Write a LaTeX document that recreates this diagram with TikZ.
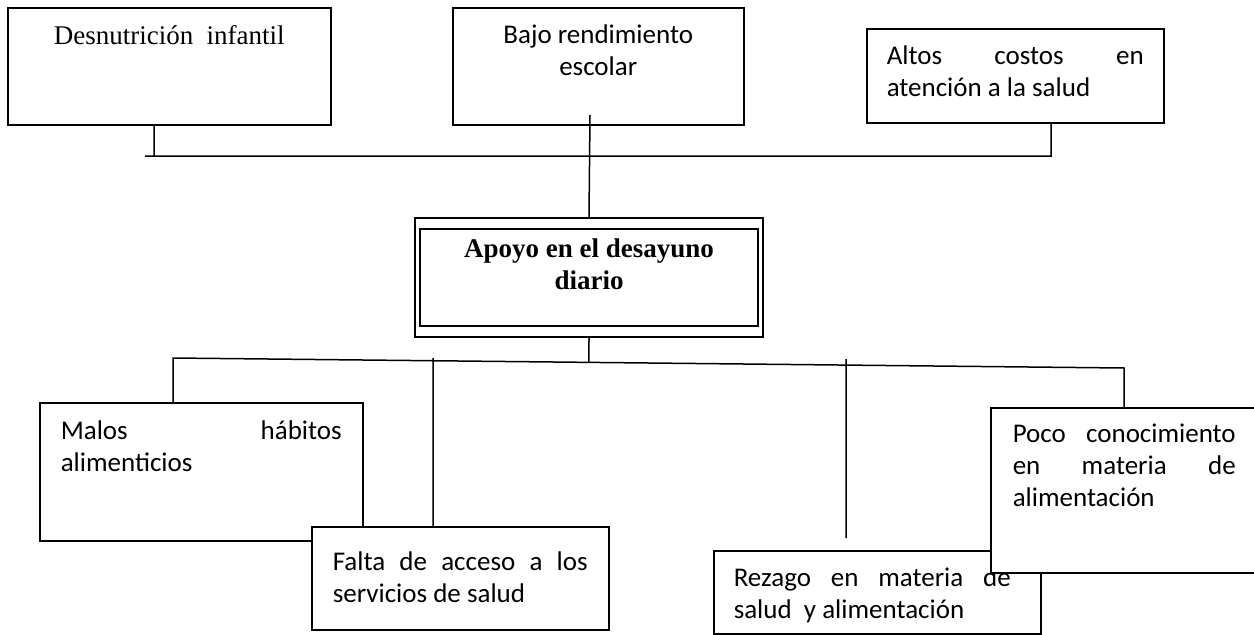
\documentclass[tikz,border=0pt]{standalone}
\usepackage{fontspec}
\setmainfont{Carlito}
\newfontfamily\tnr{Liberation Serif}
\usepackage{tikz}
\usetikzlibrary{calc,positioning}
\tikzset{caja/.style={draw,line width=1.5pt,fill=white,inner xsep=20pt,inner ysep=0pt,anchor=north west,font=\fontsize{27pt}{32pt}\selectfont},
	linea/.style={line width=1.5pt}}
\newcommand\renglon[2][\linewidth]{\makebox[#1][s]{#2}}
\newcommand\tope[1]{\rule{0pt}{#1pt}}

\begin{document}
\begin{tikzpicture}[x=1pt,y=-1pt]
		\useasboundingbox (0,0) rectangle (1254,635);
		\begin{scope}
			\node(desn) [caja] at (7,7) {\parbox[c][117pt][t]{283pt}{\centering\tnr\tope{37}Desnutrición\ \ infantil}};
			\node(bajo) [caja] at (452,7) {\parbox[c][117pt][t]{251pt}{\centering\tope{36}Bajo rendimiento\\escolar}};
			\node(altos) [caja] at (866,28) {\parbox[c][94pt][t]{257pt}{\tope{36}\renglon{Altos costos en}\\atención a la salud}};
			\node(apoyo) [draw,line width=1.5pt,minimum width=348pt,minimum height=119pt,inner sep=0pt] at (589,277.5) {};
			\node(apoyoin) [caja,anchor=center,inner xsep=0pt] at (apoyo.center) {\parbox[c][97pt][t]{338pt}{\centering\tnr\bfseries\tope{28}Apoyo en el desayuno\\diario}};
			\node(malos) [caja,inner xsep=21pt] at (39,402) {\parbox[c][138pt][t]{281pt}{\tope{37}\renglon{Malos hábitos}\\alimenticios}};
			\node(falta) [caja,inner xsep=21pt] at (311,526) {\parbox[c][103pt][t]{255pt}{\tope{44}\renglon{Falta de acceso a los}\\servicios de salud}};
			\node(rezago) [caja] at (713,550) {\parbox[c][83pt][t]{287pt}{\tope{36}\renglon[277pt]{Rezago en materia de}\\salud\ \ y alimentación}};
			\node(poco) [caja,inner xsep=22pt] at (990,407) {\parbox[c][165pt][t]{223pt}{\tope{35}\renglon{Poco conocimiento}\\\renglon{en materia de}\\alimentación}};
			\coordinate (arr) at (590,115);
			\coordinate (bI) at (145,156);
			\coordinate (bD) at (1051,156);
			\coordinate (pD) at (154,156);
			\coordinate (bA) at (173,358);
			\coordinate (bB) at (1124,368);
			\coordinate (cF) at (433,358);
			\coordinate (cR) at (846,359);
			\coordinate (fR) at (846,538);
			\draw [linea] (apoyo.north) -- (arr)
			      (bI) -- (bD) -- (bD |- altos.south)
			      (pD) -- (pD |- desn.south);
			\draw [linea] (malos.north -| bA) -- (bA) -- (bB) -- (bB |- poco.north)
			      (apoyo.south) -- ($(bA)!0.4374!(bB)$)
			      (cF) -- (cF |- falta.north)
			      (cR) -- (fR);
		\end{scope}
	\end{tikzpicture}
\end{document}
